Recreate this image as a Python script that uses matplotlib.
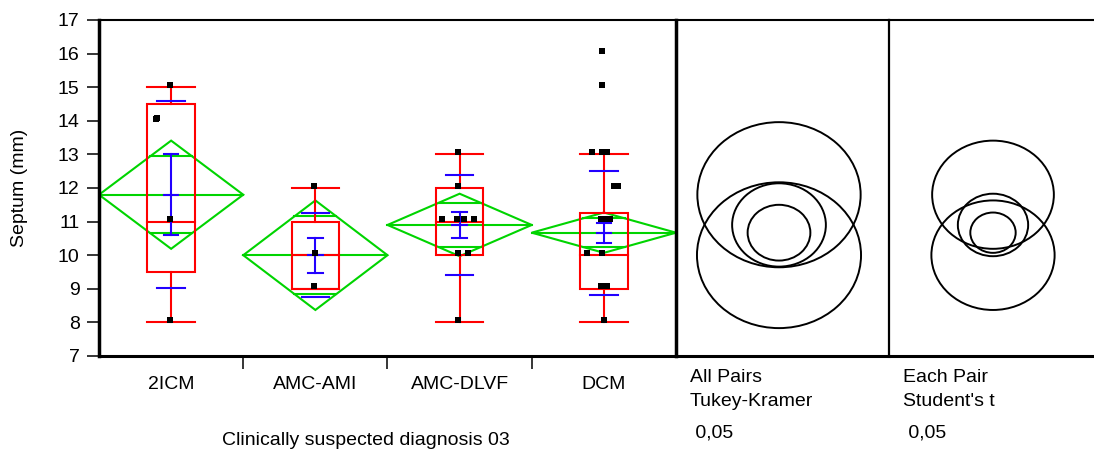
import matplotlib
matplotlib.use('Agg')
import matplotlib.pyplot as plt
from matplotlib.patches import Ellipse, Polygon, Rectangle
import numpy as np

plt.rcParams['font.family'] = ['Liberation Sans', 'DejaVu Sans']

# ---------------- data ----------------
categories = ['2ICM', 'AMC-AMI', 'AMC-DLVF', 'DCM']
box_min = [8.0, 9.0, 8.0, 8.0]
box_q1 = [9.5, 9.0, 10.0, 9.0]
box_median = [11.0, 10.0, 11.0, 10.0]
box_q3 = [14.5, 11.0, 12.0, 11.25]
box_max = [15.0, 12.0, 13.0, 13.0]
group_mean = [11.8, 10.0, 10.9, 10.67]
group_sd = [2.78, 1.25, 1.48, 1.85]
group_se = [1.2, 0.52, 0.38, 0.3]
ci95_half = [1.61, 1.63, 0.93, 0.6]
tukey_radius = [2.16, 2.17, 1.24, 0.83]
student_radius = [1.61, 1.63, 0.93, 0.6]

points_2icm = [15.07, 14.04, 14.09, 11.08, 8.07]
points_amc_ami = [12.07, 10.07, 9.07]
points_amc_dlvf = [13.07, 12.07, 11.07, 11.07, 11.07, 11.07, 10.07, 10.07, 8.07]
points_dcm = [16.07, 15.07, 13.07, 13.07, 13.07, 12.07, 12.07, 11.07, 11.07,
              11.07, 10.07, 10.07, 9.07, 9.07, 8.07]
jitter_2icm = [-0.01, -0.105, -0.095, -0.01, -0.01]
jitter_amc_ami = [-0.01, 0.0, -0.01]
jitter_amc_dlvf = [-0.01, -0.01, -0.12, -0.02, 0.03, 0.1, -0.01, 0.06, -0.01]
jitter_dcm = [-0.01, -0.01, -0.08, -0.01, 0.02, 0.07, 0.1, -0.02, 0.01,
              0.04, -0.12, -0.01, -0.02, 0.02, 0.0]
all_points = [points_2icm, points_amc_ami, points_amc_dlvf, points_dcm]
all_jitter = [jitter_2icm, jitter_amc_ami, jitter_amc_dlvf, jitter_dcm]

y_ticks = list(range(7, 18))
x_title = 'Clinically suspected diagnosis 03'
y_title = 'Septum (mm)'
tukey_text = ['All Pairs', 'Tukey-Kramer', ' 0,05']
student_text = ['Each Pair', "Student's t", ' 0,05']

# ---------------- layout ----------------
W, H = 1094, 451
fig = plt.figure(figsize=(W / 100, H / 100), dpi=100)

def fx(px):
    return px / W

def fy(py):
    return 1 - py / H

top_px, bot_px = 20, 356
main_l, main_r = 99, 676
tk_l, tk_r = 676, 889
st_l, st_r = 889, 1094

axs = fig.add_axes([fx(st_l), fy(bot_px), fx(st_r - st_l), (bot_px - top_px) / H])
axt = fig.add_axes([fx(tk_l), fy(bot_px), fx(tk_r - tk_l), (bot_px - top_px) / H])
ax = fig.add_axes([fx(main_l), fy(bot_px), fx(main_r - main_l), (bot_px - top_px) / H])
for a in (ax, axt, axs):
    a.patch.set_visible(False)

GREEN = '#00d400'
RED = '#ff0000'
BLUE = '#2200ff'
LW = 1.5

ax.set_xlim(0.5, len(categories) + 0.5)
ax.set_ylim(7, 17)

box_w = 0.33
sd_w = 0.19
se_w = 0.1
for i, cat in enumerate(categories):
    c = i + 1
    m = group_mean[i]
    ci = ci95_half[i]
    # means diamond
    dia = Polygon([[c - 0.5, m], [c, m + ci], [c + 0.5, m], [c, m - ci]],
                  closed=True, fill=False, edgecolor=GREEN, lw=LW, zorder=2)
    ax.add_patch(dia)
    ax.plot([c - 0.5, c + 0.5], [m, m], color=GREEN, lw=LW, zorder=2)
    ov = ci / np.sqrt(2)
    half = 0.5 * (1 - 1 / np.sqrt(2))
    for yy in (m + ov, m - ov):
        ax.plot([c - half, c + half], [yy, yy], color=GREEN, lw=LW, zorder=2)
    # box plot
    ax.add_patch(Rectangle((c - box_w / 2, box_q1[i]), box_w, box_q3[i] - box_q1[i],
                           fill=False, edgecolor=RED, lw=LW, zorder=3))
    ax.plot([c - box_w / 2, c + box_w / 2], [box_median[i]] * 2, color=RED, lw=LW, zorder=3)
    ax.plot([c, c], [box_q3[i], box_max[i]], color=RED, lw=LW, zorder=3)
    ax.plot([c, c], [box_min[i], box_q1[i]], color=RED, lw=LW, zorder=3)
    for yy in (box_min[i], box_max[i]):
        ax.plot([c - box_w / 2, c + box_w / 2], [yy, yy], color=RED, lw=LW, zorder=3)
    # std dev lines
    for yy in (m + group_sd[i], m - group_sd[i]):
        ax.plot([c - sd_w / 2, c + sd_w / 2], [yy, yy], color=BLUE, lw=LW, zorder=4)
    # mean error bar
    ax.plot([c, c], [m - group_se[i], m + group_se[i]], color=BLUE, lw=LW, zorder=4)
    for yy in (m - group_se[i], m, m + group_se[i]):
        ax.plot([c - se_w / 2, c + se_w / 2], [yy, yy], color=BLUE, lw=LW, zorder=4)
    # points
    xs = [c + j for j in all_jitter[i]]
    ax.plot(xs, all_points[i], ls='none', marker='s', ms=4.0, color='black',
            mec='black', mew=0, zorder=5)

# axes styling main
ax.set_yticks(y_ticks)
ax.set_yticklabels([str(t) for t in y_ticks], fontsize=14)
ax.tick_params(axis='y', direction='out', length=9, width=1.1, pad=5, color='black')
ax.set_xticks(range(1, len(categories) + 1))
ax.set_xticklabels(categories, fontsize=14)
ax.tick_params(axis='x', which='major', length=0, pad=14.5)
ax.set_xticks([1.5, 2.5, 3.5], minor=True)
ax.tick_params(axis='x', which='minor', direction='out', length=9, width=1.1, color='black')
ax.spines['left'].set_linewidth(2.5)
ax.spines['bottom'].set_linewidth(2.2)
ax.spines['right'].set_linewidth(2.5)
ax.spines['top'].set_linewidth(1.5)

# comparison circles panels
ppy = (bot_px - top_px) / 10.0
ppx = 1.125 * ppy

def setup_panel(a, left, right, cx, radii):
    a.set_ylim(7, 17)
    a.set_xlim(-(cx - left) / ppx, (right - cx) / ppx)
    a.set_xticks([])
    a.set_yticks([])
    a.spines['left'].set_visible(False)
    a.spines['top'].set_linewidth(1.5)
    a.spines['bottom'].set_linewidth(2.2)
    for i in range(len(categories)):
        a.add_patch(Ellipse((0, group_mean[i]), 2 * radii[i], 2 * radii[i],
                            fill=False, edgecolor='black', lw=1.4))

setup_panel(axt, tk_l, tk_r, 779, tukey_radius)
axt.spines['right'].set_linewidth(1.6)
setup_panel(axs, st_l, st_r, 993, student_radius)
axs.spines['right'].set_visible(False)

# texts
fig.text(fx(20), fy(188), y_title, rotation=90, ha='center', va='center', fontsize=14)
fig.text(fx(366), fy(445), x_title, ha='center', va='baseline', fontsize=14)
for k, (t1, t2) in enumerate(zip(tukey_text, student_text)):
    yb = [382, 406, 438][k]
    fig.text(fx(690), fy(yb), t1, ha='left', va='baseline', fontsize=14)
    fig.text(fx(903), fy(yb), t2, ha='left', va='baseline', fontsize=14)

fig.savefig('out.png', dpi=100)
